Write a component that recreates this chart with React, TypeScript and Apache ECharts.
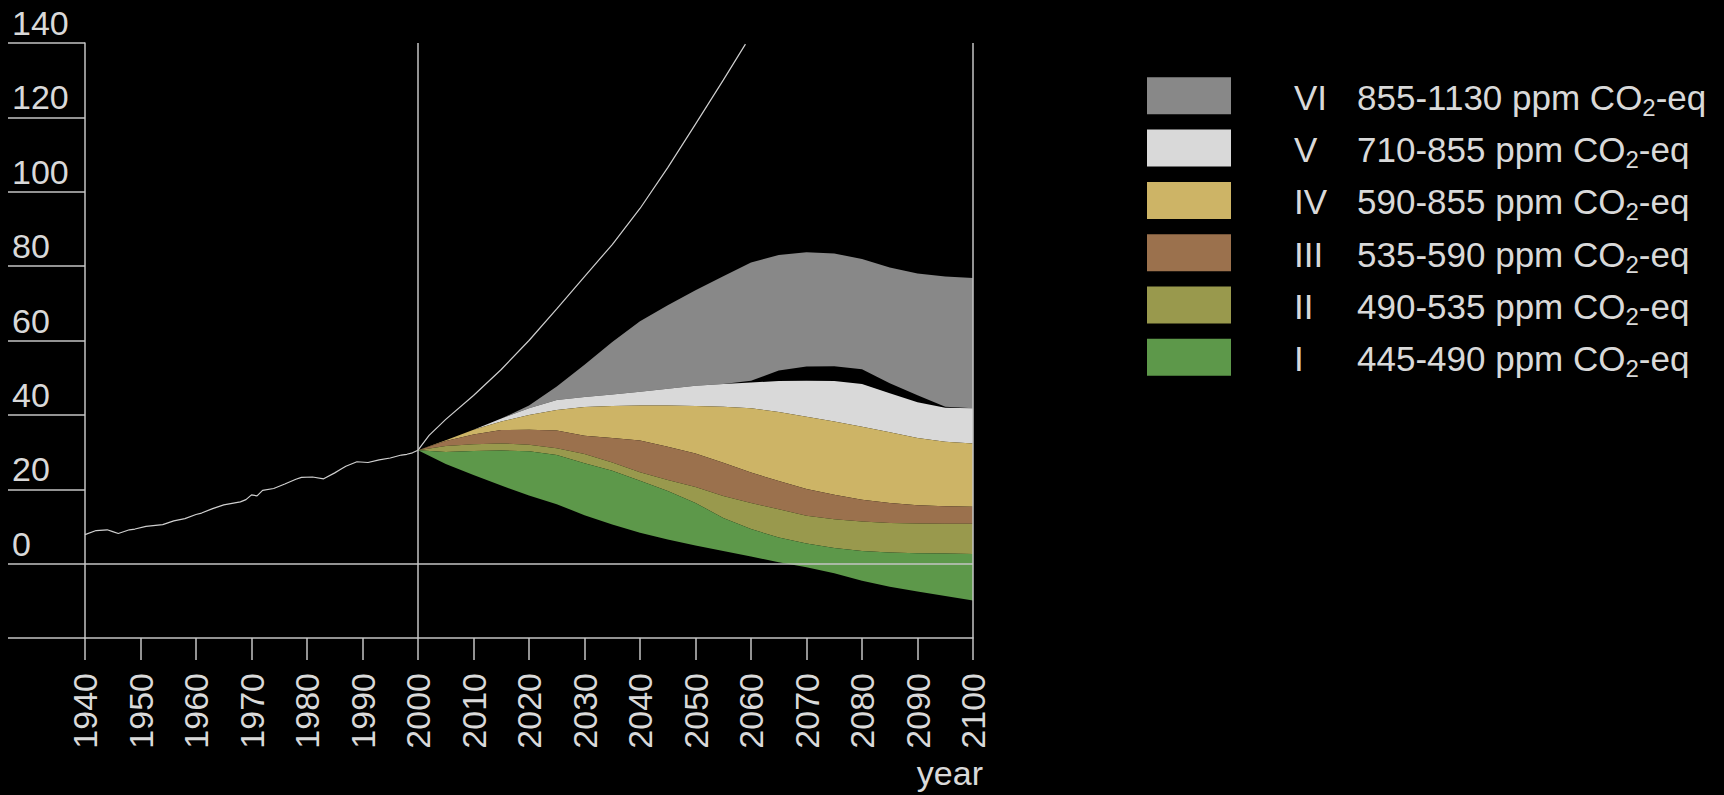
import React, { useEffect, useRef } from "react";
import * as echarts from "echarts";

const FONT = '"Liberation Sans", Arial, Helvetica, sans-serif';
const TEXT_COLOR = "#d9d9d9";
const AXIS_COLOR = "#c4c4c4";
const CURVE_COLOR = "#cfcfcf";

// Historical emissions 1940-2000
const histYears = [
  1940, 1942, 1944, 1945, 1946, 1948, 1949, 1951, 1954, 1956, 1958, 1960, 1961,
  1963, 1965, 1968, 1969, 1970, 1971, 1972, 1974, 1976, 1978, 1979, 1981, 1983,
  1985, 1986, 1987, 1989, 1991, 1993, 1995, 1997, 1998, 1999, 2000,
];
const histValues = [
  7.8, 8.9, 9.1, 8.6, 8.1, 9.1, 9.3, 10.0, 10.5, 11.5, 12.1, 13.2, 13.6, 14.8,
  15.8, 16.6, 17.2, 18.5, 18.2, 19.7, 20.2, 21.4, 22.7, 23.2, 23.3, 22.8, 24.4,
  25.3, 26.2, 27.4, 27.2, 27.9, 28.4, 29.2, 29.4, 29.8, 30.5,
];

// Reference path without mitigation
const refYears = [2000, 2002, 2005, 2010, 2015, 2020, 2025, 2030, 2035, 2040, 2045, 2050, 2055, 2059];
const refValues = [30.5, 34.5, 38.8, 45.2, 52.2, 60.0, 68.5, 77.2, 85.8, 95.5, 106.5, 118.2, 130.0, 139.7];

// Scenario ranges 2000-2100
const scenYears = [
  2000, 2005, 2010, 2015, 2020, 2025, 2030, 2035, 2040, 2045, 2050, 2055, 2060,
  2065, 2070, 2075, 2080, 2085, 2090, 2095, 2100,
];
const lowerI = [30.5, 26.8, 23.8, 21.0, 18.3, 16.0, 13.0, 10.5, 8.3, 6.5, 4.9, 3.4, 1.9, 0.4, -1.0, -2.6, -4.6, -6.2, -7.5, -8.7, -9.9];
const upperI = [30.5, 30.0, 30.3, 30.4, 30.2, 29.2, 27.0, 25.0, 22.3, 19.5, 16.3, 12.3, 9.3, 7.0, 5.4, 4.2, 3.4, 3.0, 2.8, 2.7, 2.6];
const lowerII = [30.5, 30.0, 30.3, 30.4, 30.2, 29.2, 27.0, 25.0, 22.3, 19.5, 16.3, 12.3, 9.3, 7.0, 5.4, 4.2, 3.4, 3.0, 2.8, 2.7, 2.6];
const upperII = [30.5, 31.6, 32.1, 32.3, 32.0, 31.0, 29.5, 27.2, 24.6, 22.5, 20.6, 18.2, 16.3, 14.6, 12.9, 11.9, 11.3, 10.9, 10.8, 10.7, 10.7];
const lowerIII = [30.5, 31.6, 32.1, 32.3, 32.0, 31.0, 29.5, 27.2, 24.6, 22.5, 20.6, 18.2, 16.3, 14.6, 12.9, 11.9, 11.3, 10.9, 10.8, 10.7, 10.7];
const upperIII = [30.5, 33.0, 34.7, 35.9, 36.0, 35.8, 34.4, 33.8, 33.1, 31.4, 29.6, 27.1, 24.5, 22.2, 20.1, 18.5, 17.2, 16.3, 15.7, 15.4, 15.3];
const lowerIV = [30.5, 33.0, 34.7, 35.9, 36.0, 35.8, 34.4, 33.8, 33.1, 31.4, 29.6, 27.1, 24.5, 22.2, 20.1, 18.5, 17.2, 16.3, 15.7, 15.4, 15.3];
const upperIV = [30.5, 33.2, 36.0, 38.2, 40.0, 41.3, 42.1, 42.4, 42.5, 42.5, 42.4, 42.2, 41.8, 40.8, 39.5, 38.2, 36.8, 35.3, 33.8, 32.8, 32.3];
const lowerV = [30.5, 33.2, 36.0, 38.2, 40.0, 41.3, 42.1, 42.4, 42.5, 42.5, 42.4, 42.2, 41.8, 40.8, 39.5, 38.2, 36.8, 35.3, 33.8, 32.8, 32.3];
const upperV = [30.5, 33.2, 36.0, 39.0, 41.8, 44.0, 44.8, 45.5, 46.2, 47.0, 47.8, 48.3, 48.7, 49.1, 49.2, 49.1, 48.3, 45.8, 43.4, 41.9, 41.8];
const lowerVI = [30.5, 33.2, 36.0, 39.0, 41.8, 44.0, 44.8, 45.5, 46.2, 47.0, 47.8, 48.3, 49.2, 51.9, 53.0, 53.1, 52.3, 48.5, 45.3, 42.2, 41.8];
const upperVI = [30.5, 33.2, 36.0, 39.0, 42.5, 47.6, 53.5, 59.6, 65.2, 69.5, 73.5, 77.3, 81.0, 83.0, 83.7, 83.4, 81.9, 79.6, 78.0, 77.2, 76.8];

// Categories, listed top to bottom as in the key
const categories = ["VI", "V", "IV", "III", "II", "I"];
const ranges = ["855-1130", "710-855", "590-855", "535-590", "490-535", "445-490"];
const colors = ["#888888", "#d9d9d9", "#cdb466", "#9b714d", "#99994d", "#5d984a"];
const lowers = [lowerVI, lowerV, lowerIV, lowerIII, lowerII, lowerI];
const uppers = [upperVI, upperV, upperIV, upperIII, upperII, upperI];

const X_MIN = 1940;
const X_MAX = 2100;
const X_STEP = 10;
const Y_MIN = -20;
const Y_MAX = 140;
const Y_STEP = 20;
const AXIS_NAME = "year";

function bandSeries(name: string, lower: number[], upper: number[], color: string) {
  return {
    type: "custom",
    name,
    z: 2,
    silent: true,
    data: scenYears.map((y, i) => [y, lower[i], upper[i]]),
    encode: { x: 0, y: [1, 2] },
    renderItem: (params: any, api: any) => {
      if (params.dataIndex !== 0) return null;
      const top = scenYears.map((y, i) => api.coord([y, upper[i]]));
      const bottom = scenYears.map((y, i) => api.coord([y, lower[i]])).reverse();
      return {
        type: "polygon",
        shape: { points: top.concat(bottom) },
        style: { fill: color, stroke: null },
      };
    },
  };
}

export default function App() {
  const ref = useRef<HTMLDivElement>(null);

  useEffect(() => {
    document.documentElement.style.background = "#000";
    document.body.style.margin = "0";
    document.body.style.background = "#000";
    document.body.style.overflow = "hidden";
    if (!ref.current) return;
    const chart = echarts.init(ref.current, undefined, { renderer: "svg" });

    const axisLine = { color: AXIS_COLOR, width: 1.5 };
    const labelFont = { color: TEXT_COLOR, fontSize: 34, fontFamily: FONT };

    const legendTop = 77.3;
    const legendStep = 52.3;
    const legend: any[] = [];
    categories.forEach((c, i) => {
      const top = legendTop + i * legendStep;
      legend.push({
        type: "rect",
        shape: { x: 1147, y: top, width: 84, height: 37 },
        style: { fill: colors[i] },
      });
      legend.push({
        type: "text",
        x: 1294,
        y: top + 20,
        style: {
          text: c,
          fill: TEXT_COLOR,
          fontSize: 35,
          fontFamily: FONT,
          align: "left",
          verticalAlign: "middle",
        },
      });
      legend.push({
        type: "text",
        x: 1357,
        y: top + 20,
        style: {
          text: `{t|${ranges[i]} ppm CO}{s|2}{t|-eq}`,
          align: "left",
          verticalAlign: "middle",
          rich: {
            t: { fontSize: 35, fontFamily: FONT, fill: TEXT_COLOR, lineHeight: 44 },
            s: { fontSize: 24, fontFamily: FONT, fill: TEXT_COLOR, lineHeight: 27, verticalAlign: "bottom" },
          },
        },
      });
    });

    chart.setOption({
      animation: false,
      backgroundColor: "#000",
      grid: { left: 85, top: 43, width: 888, height: 595, containLabel: false },
      xAxis: {
        type: "value",
        min: X_MIN,
        max: X_MAX,
        interval: X_STEP,
        axisLine: { show: true, onZero: false, lineStyle: axisLine },
        axisTick: { show: true, length: 22, lineStyle: axisLine },
        axisLabel: {
          ...labelFont,
          rotate: 90,
          margin: 35,
          showMinLabel: true,
          showMaxLabel: true,
          formatter: (v: number) => String(v),
        },
        splitLine: { show: false },
      },
      yAxis: {
        type: "value",
        min: Y_MIN,
        max: Y_MAX,
        interval: Y_STEP,
        axisLine: { show: true, onZero: false, lineStyle: axisLine },
        axisTick: { show: true, length: 77, lineStyle: axisLine },
        axisLabel: {
          ...labelFont,
          align: "left",
          margin: 73,
          verticalAlign: "bottom",
          lineHeight: 40,
          showMinLabel: true,
          showMaxLabel: true,
          formatter: (v: number) => (v === Y_MIN ? "" : String(v)),
        },
        splitLine: { show: false },
      },
      graphic: [
        ...legend,
        {
          type: "text",
          x: 983,
          y: 773,
          style: {
            text: AXIS_NAME,
            fill: TEXT_COLOR,
            fontSize: 34,
            fontFamily: FONT,
            align: "right",
            verticalAlign: "middle",
          },
        },
      ],
      series: [
        {
          type: "line",
          name: "historical",
          z: 1,
          symbol: "none",
          silent: true,
          data: histYears.map((y, i) => [y, histValues[i]]),
          lineStyle: { color: CURVE_COLOR, width: 1.2 },
          markLine: {
            silent: true,
            symbol: ["none", "none"],
            label: { show: false },
            lineStyle: { color: AXIS_COLOR, width: 1.5, type: "solid" },
            emphasis: { disabled: true },
            data: [{ yAxis: 0 }, { xAxis: 2000 }, { xAxis: 2100 }],
          },
        },
        ...categories.map((c, i) => bandSeries(c, lowers[i], uppers[i], colors[i])),
        {
          type: "line",
          name: "reference",
          z: 3,
          symbol: "none",
          silent: true,
          data: refYears.map((y, i) => [y, refValues[i]]),
          lineStyle: { color: CURVE_COLOR, width: 1.2 },
        },
      ],
    });

    return () => chart.dispose();
  }, []);

  return <div ref={ref} style={{ width: 1724, height: 795, background: "#000" }} />;
}
